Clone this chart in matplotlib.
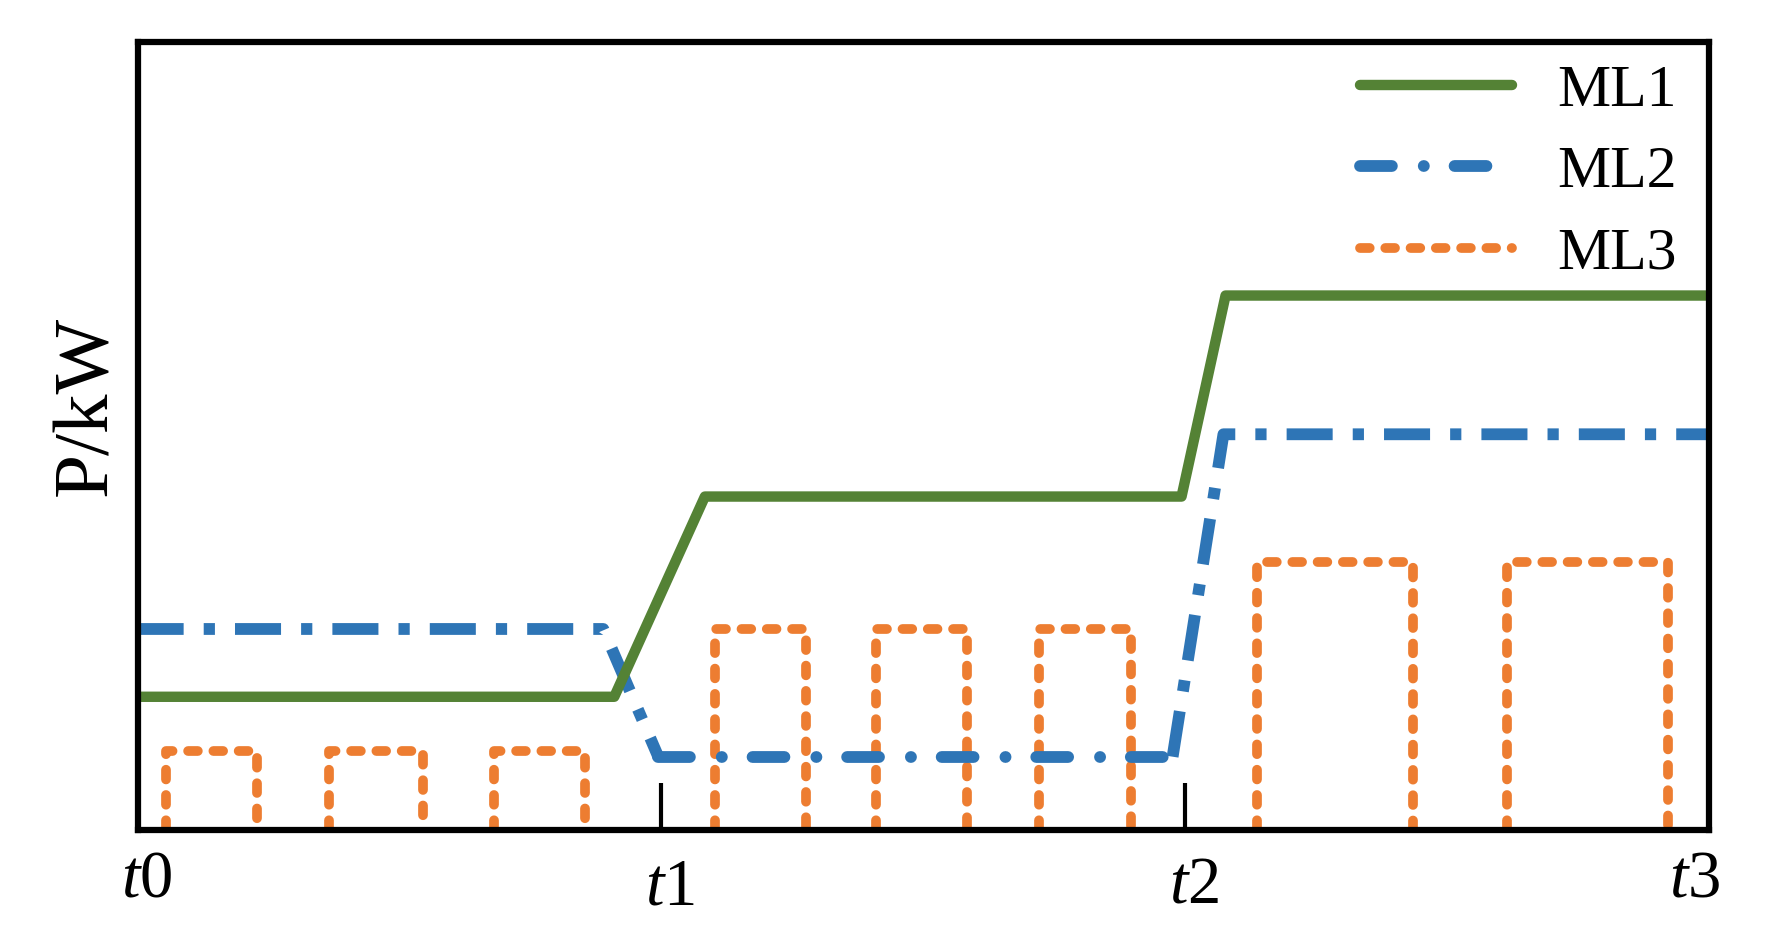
import numpy as np
import matplotlib
matplotlib.use("Agg")
import matplotlib.pyplot as plt
import matplotlib.transforms as mtransforms

plt.rcParams['font.family'] = ['Liberation Serif', 'DejaVu Serif']
plt.rcParams['mathtext.fontset'] = 'custom'
plt.rcParams['mathtext.rm'] = 'Liberation Serif'
plt.rcParams['mathtext.it'] = 'Liberation Serif:italic'

# time axis: t0..t3 mapped to 0..3, power in arbitrary units (0..10)
tick_pos = [0, 1, 2, 3]
tick_labels = ['$t$0', '$t$1', '$t$2', '$t$3']

# ML1 polyline
ml1_x = [0.0, 0.91, 1.083, 1.993, 2.077, 3.0]
ml1_y = [1.69, 1.69, 4.23, 4.23, 6.78, 6.78]

# ML2 polyline
ml2_x = [0.0, 0.889, 0.994, 1.976, 2.073, 3.0]
ml2_y = [2.55, 2.55, 0.93, 0.93, 5.02, 5.02]

# ML3 switching pulses (start, end, height)
ml3_start = [0.054, 0.366, 0.680, 1.102, 1.410, 1.720, 2.137, 2.615]
ml3_end = [0.228, 0.544, 0.854, 1.276, 1.584, 1.896, 2.434, 2.922]
ml3_height = [1.0, 1.0, 1.0, 2.55, 2.55, 2.55, 3.4, 3.4]

green = '#548235'
blue = '#2E75B6'
orange = '#ED7D31'

fig = plt.figure(figsize=(17.68, 9.3), dpi=100)
ax = fig.add_axes([137.6 / 1768, 1 - 830 / 930, (1709 - 137.6) / 1768, (830 - 41.7) / 930])

# build ML3 as separate rectangles (no bottom edge)
px, py = [], []
for s, e, h in zip(ml3_start, ml3_end, ml3_height):
    px += [s, s, e, e, np.nan]
    py += [0, h, h, 0, np.nan]

ax.plot(ml1_x, ml1_y, color=green, lw=7.5, solid_capstyle='round',
        solid_joinstyle='round', label='ML1', zorder=3)

# ML2: outer parts drawn with square dashes, the low middle part with round ones
ax.plot(ml2_x[:3], ml2_y[:3], color=blue, lw=8.5, dashes=(3.9, 1.7, 0.95, 1.7),
        dash_capstyle='butt', zorder=2)
ax.plot(ml2_x[2:4], ml2_y[2:4], color=blue, lw=8.5, dashes=(2.7, 2.7, 0.01, 2.6),
        dash_capstyle='round', label='ML2', zorder=2)
ax.plot(ml2_x[3:], ml2_y[3:], color=blue, lw=8.5, dashes=(3.9, 1.7, 0.95, 1.7),
        dash_capstyle='butt', zorder=2)

ax.plot(px, py, color=orange, lw=7, dashes=(1.0, 1.6),
        dash_capstyle='round', label='ML3', zorder=1)

ax.set_xlim(0, 3)
ax.set_ylim(0, 10)
ax.set_yticks([])
ax.set_xticks(tick_pos)
ax.set_xticklabels(tick_labels, fontsize=48)
ax.tick_params(axis='x', direction='in', length=34, width=3, pad=14)

# small offsets of the time labels as in the original drawing
label_shift = [(6.5, 0), (6.5, -6), (6.5, -4), (-10, 0)]
for lab, (dx, dy) in zip(ax.get_xticklabels(), label_shift):
    off = mtransforms.ScaledTranslation(dx / 72, dy / 72, fig.dpi_scale_trans)
    lab.set_transform(lab.get_transform() + off)

for sp in ax.spines.values():
    sp.set_linewidth(4.5)
    sp.set_zorder(5)

ax.set_ylabel('P/kW', fontsize=57)
ax.yaxis.set_label_coords(-0.009, 0.538)

leg = ax.legend(loc='upper right', frameon=False, fontsize=43,
                handlelength=2.55, handletextpad=0.75, labelspacing=0.45,
                borderaxespad=0.3, bbox_to_anchor=(1.006, 1.025))

fig.savefig('out.png', dpi=100)
